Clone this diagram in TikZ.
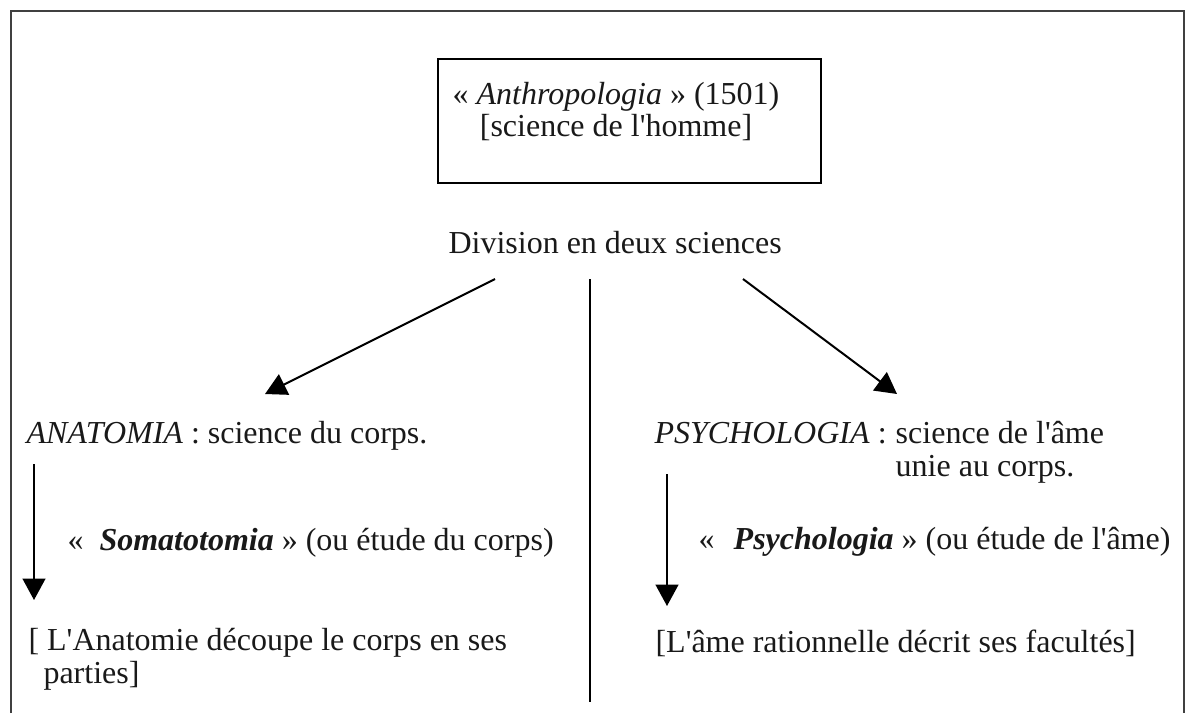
\documentclass[tikz,border=0pt]{standalone}
\usepackage{fontspec}
% straight apostrophes, as typed
\setmainfont{Liberation Serif}[Ligatures=TeXOff]
\usetikzlibrary{arrows.meta}
\begin{document}
\begin{tikzpicture}[x=0.375pt,y=-0.375pt,
  txt/.style={inner sep=0pt, anchor=base west, text=black!90, font=\fontsize{12}{13}\selectfont},
  ctxt/.style={txt, anchor=base},
  link/.style={line width=0.75pt, -{Triangle[length=8pt,width=8.5pt]}},
  rule/.style={line width=0.75pt},
  frame/.style={line width=0.9pt, draw=black!75}]
\useasboundingbox (0,0) rectangle (1187,713);
% outer frame, open at the bottom
\draw[frame] (11,713) -- (11,11) -- (1184,11) -- (1184,713);

% title box
\node[draw, line width=0.75pt, minimum width=143.6pt, minimum height=46.5pt,
      inner sep=0pt, anchor=north west] (box) at (437,58) {};
\node[ctxt] (title) at (616,104) {« \textit{Anthropologia} » (1501)};
\node[ctxt] (subtitle) at (616,136) {{[}science de l'homme{]}};

\node[txt] (division) at (448,253) {Division en deux sciences};

% left branch
\node[txt] (anatomia) at (26,443) {\textit{ANATOMIA} : science du corps.};
\node[txt] (somato) at (67,550) {«\hspace{0.5em}\textbf{\textit{Somatotomia}} » (ou étude du corps)};
\node[txt] (anat1) at (28,650) {{[} L'Anatomie découpe le corps en ses};
\node[txt] (anat2) at (43,683) {parties{]}};

% right branch
\node[txt] (psyhead) at (654,443) {\textit{PSYCHOLOGIA} :};
\node[txt] (psybody) at ([xshift=3pt]psyhead.base east) {science de l'âme};
\node[txt] (psybody2) at ([yshift=-12.4pt]psybody.base west) {unie au corps.};
\node[txt] (psyetude) at (698,549) {«\hspace{0.6em}\textbf{\textit{Psychologia}} » (ou étude de l'âme)};
\node[txt] (ame) at (655,652) {{[}L'âme rationnelle décrit ses facultés{]}};

% connectors
\coordinate (lstart) at (495,279);
\coordinate (lend) at (265,394);
\coordinate (rstart) at (743,279);
\coordinate (rend) at (897,394);
\coordinate (ctop) at (590,279);
\coordinate (cbot) at (590,702);
\coordinate (adtop) at (34,464);
\coordinate (adbot) at (34,600);
\coordinate (pdtop) at (667,474);
\coordinate (pdbot) at (667,606);

\draw[link] (lstart) -- (lend);
\draw[link] (rstart) -- (rend);
\draw[rule] (ctop) -- (cbot);
\draw[link] (adtop) -- (adbot);
\draw[link] (pdtop) -- (pdbot);
\end{tikzpicture}
\end{document}
